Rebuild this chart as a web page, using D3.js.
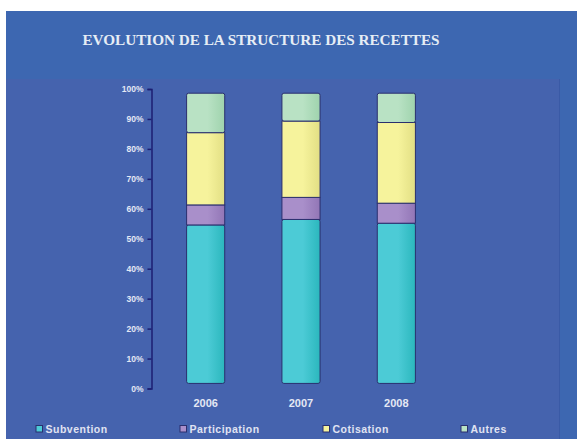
<!DOCTYPE html>
<html><head><meta charset="utf-8">
<script src="https://cdn.jsdelivr.net/npm/d3@7"></script>
<style>html,body{margin:0;padding:0;background:#fff;}svg{display:block;}</style>
</head><body>
<svg id="chart" width="577" height="439"></svg>
<script>
const title = "EVOLUTION DE LA STRUCTURE DES RECETTES";
const years = ["2006", "2007", "2008"];
const seriesNames = ["Subvention", "Participation", "Cotisation", "Autres"];
const subvention = [54.6, 56.5, 55.2];
const participation = [6.9, 7.6, 6.9];
const cotisation = [24.9, 26.3, 27.8];
const autres = [13.6, 9.6, 10.1];
const tickValues = [0, 10, 20, 30, 40, 50, 60, 70, 80, 90, 100];
const colors = ["#4ccbd6", "#a98fca", "#f6f39c", "#b9e2c4"];
const colorsDark = ["#2bb7bd", "#9276b6", "#e2df84", "#9fd3ad"];

const svg = d3.select("#chart");
const defs = svg.append("defs");
colors.forEach((c, i) => {
  const g = defs.append("linearGradient").attr("id", "g" + i).attr("x1", "0").attr("x2", "1").attr("y1", "0").attr("y2", "0");
  g.append("stop").attr("offset", "0").attr("stop-color", c);
  g.append("stop").attr("offset", "0.55").attr("stop-color", c);
  g.append("stop").attr("offset", "1").attr("stop-color", colorsDark[i]);
});

// backgrounds
svg.append("rect").attr("x", 6).attr("y", 11).attr("width", 571).attr("height", 428).attr("fill", "#3d67b1");
svg.append("rect").attr("x", 6).attr("y", 79).attr("width", 553).attr("height", 360).attr("fill", "#4563ae");
svg.append("line").attr("x1", 559.5).attr("x2", 559.5).attr("y1", 79).attr("y2", 439).attr("stroke", "#3a5aa6").attr("stroke-width", 1);

svg.append("text").attr("x", 261).attr("y", 45).attr("text-anchor", "middle")
  .attr("font-family", "Liberation Serif, Times New Roman, serif").attr("font-weight", "bold")
  .attr("font-size", 15.2).attr("fill", "#e6edf5").text(title);

const y = d3.scaleLinear().domain([0, 100]).range([388.5, 89]);
const yBar = d3.scaleLinear().domain([0, 100]).range([y(1.7), y(98.6)]);
const x = d3.scaleBand().domain(years).range([158, 444]).paddingInner(0.6).paddingOuter(0.3);

const axis = d3.axisLeft(y).tickValues(tickValues).tickFormat(d => d + "%").tickSize(4).tickPadding(4);
const ax = svg.append("g").attr("transform", "translate(151.5,0)").call(axis);
ax.select(".domain").attr("stroke", "#1c1f73").attr("stroke-width", 1.5);
ax.selectAll(".tick line").attr("stroke", "#1c1f73").attr("stroke-width", 1.5);
ax.selectAll(".tick text").attr("fill", "#e4e8f4").attr("font-family", "Liberation Sans, Arial, sans-serif")
  .attr("font-weight", "bold").attr("font-size", 8.5);

const data = years.map((yr, i) => ({year: yr, Subvention: subvention[i], Participation: participation[i], Cotisation: cotisation[i], Autres: autres[i]}));
const stacked = d3.stack().keys(seriesNames)(data);

stacked.forEach((layer, si) => {
  svg.append("g").selectAll("rect").data(layer).join("rect")
    .attr("x", d => x(d.data.year))
    .attr("width", x.bandwidth())
    .attr("y", d => yBar(d[1]))
    .attr("height", d => yBar(d[0]) - yBar(d[1]))
    .attr("rx", si === 3 || si === 0 ? 2 : 0)
    .attr("fill", "url(#g" + si + ")")
    .attr("stroke", "#2a2f6e").attr("stroke-width", 1);
});

svg.append("g").selectAll("text").data(years).join("text")
  .attr("x", d => x(d) + x.bandwidth() / 2).attr("y", 407).attr("text-anchor", "middle")
  .attr("font-family", "Liberation Sans, Arial, sans-serif").attr("font-weight", "bold").attr("font-size", 11)
  .attr("fill", "#e4e8f4").text(d => d);

const legendX = [36, 180, 323, 461];
const lg = svg.append("g").selectAll("g").data(seriesNames).join("g")
  .attr("transform", (d, i) => `translate(${legendX[i]},433)`);
lg.append("rect").attr("x", 0).attr("y", -7.5).attr("width", 6.5).attr("height", 6.5)
  .attr("fill", (d, i) => colors[i]).attr("stroke", "#2a2f6e").attr("stroke-width", 1);
lg.append("text").attr("x", 9.5).attr("y", 0).attr("font-family", "Liberation Sans, Arial, sans-serif")
  .attr("font-weight", "bold").attr("font-size", 10.5).attr("letter-spacing", 0.5).attr("fill", "#e0e3f2").text(d => d);
</script>
</body></html>
